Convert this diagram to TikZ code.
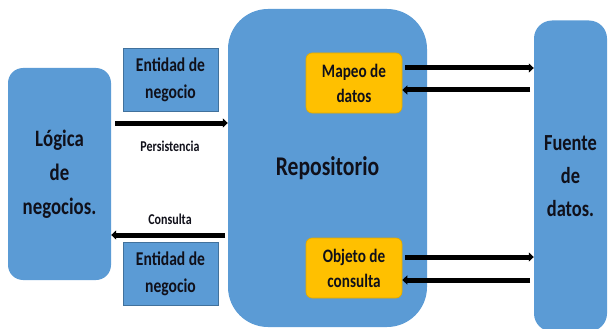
\documentclass[tikz,border=0pt]{standalone}
\usepackage{fontspec}
\setmainfont[FakeStretch=0.8]{Carlito}
\usetikzlibrary{arrows.meta}
\definecolor{boxblue}{HTML}{5B9BD5}
\definecolor{bord}{HTML}{41719C}
\definecolor{orng}{HTML}{FFC000}
\definecolor{orbord}{HTML}{E0A800}
\definecolor{txt}{HTML}{10101A}
\begin{document}
\begin{tikzpicture}[x=1pt,y=-1pt,
  every node/.style={text=txt, font=\bfseries, align=center, inner sep=0pt},
  bigbox/.style={fill=boxblue},
  entbox/.style={fill=boxblue, draw=bord, line width=0.8pt, minimum width=95pt, minimum height=63pt, font=\bfseries\fontsize{19.5}{27}\selectfont},
  orbox/.style={fill=orng, draw=orbord, line width=0.6pt, rounded corners=6pt, minimum width=96pt, minimum height=60pt, font=\bfseries\fontsize{19}{25}\selectfont},
  lbl/.style={font=\bfseries\fontsize{15}{16}\selectfont},
  arr/.style={line width=5pt, black, -{Triangle[length=5pt,width=9pt]}}]
\useasboundingbox (0,0) rectangle (608,329);
\node[bigbox, rounded corners=15pt, minimum width=103pt, minimum height=212pt, font=\bfseries\fontsize{23.5}{34}\selectfont] (L) at (59.5,174) {Lógica\\de\\negocios.};
\node[bigbox, rounded corners=40pt, minimum width=199pt, minimum height=318pt, font=\bfseries\fontsize{27}{30}\selectfont] (R) at (327.5,168) {Repositorio};
\node[bigbox, rounded corners=18pt, minimum width=73pt, minimum height=311pt, font=\bfseries\fontsize{23}{33}\selectfont] (F) at (570.5,176) {Fuente\\de\\datos.};
\node[entbox] (E1) at (170.5,79.5) {Entidad de\\negocio};
\node[entbox] (E2) at (170.5,274) {Entidad de\\negocio};
\node[orbox] (M) at (354,83) {Mapeo de\\datos};
\node[orbox] (O) at (354,268) {Objeto de\\consulta};
\node[lbl] (P) at (170,146) {Persistencia};
\node[lbl] (C) at (170,219) {Consulta};
\coordinate (a1) at (115,123);
\coordinate (a2) at (225,235);
\draw[arr] (a1) -- (a1 -| R.west);
\draw[arr] (a2) -- (a2 -| L.east);
\coordinate (m1) at (405,68);
\coordinate (m2) at (530,90);
\coordinate (o1) at (405,257);
\coordinate (o2) at (530,280);
\draw[arr] (m1) -- (m1 -| F.west);
\draw[arr] (m2) -- (m2 -| M.east);
\draw[arr] (o1) -- (o1 -| F.west);
\draw[arr] (o2) -- (o2 -| O.east);
\end{tikzpicture}
\end{document}
